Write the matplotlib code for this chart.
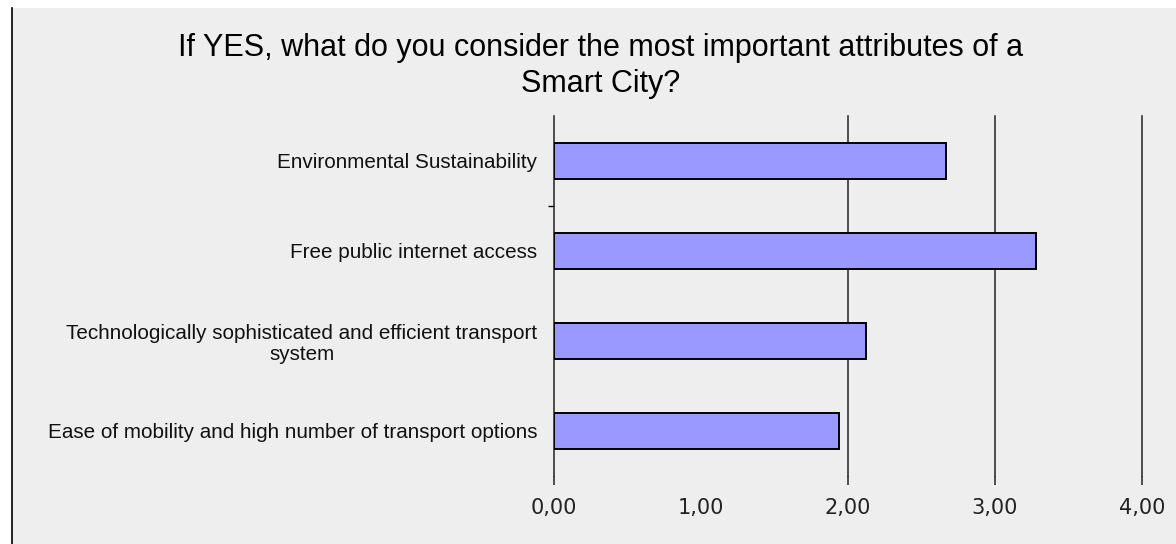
import matplotlib
matplotlib.use("Agg")
import matplotlib.pyplot as plt
from matplotlib.patches import Rectangle
from matplotlib.lines import Line2D

categories = [
    "Environmental Sustainability",
    "Free public internet access",
    "Technologically sophisticated and efficient transport\nsystem",
    "Ease of mobility and high number of transport options",
]
values = [2.67, 3.28, 2.12, 1.94]
xticks = [0, 1, 2, 3, 4]
xtick_labels = ["0,00", "1,00", "2,00", "3,00", "4,00"]
grid_at = [0, 2, 3, 4]
title = "If YES, what do you consider the most important attributes of a\nSmart City?"

W, H = 1176, 544
fig = plt.figure(figsize=(W / 100, H / 100), dpi=100)
fig.patch.set_facecolor("white")

# grey panel and left border
fig.patches.append(Rectangle((12 / W, 0), 1 - 12 / W, 1 - 8 / H, transform=fig.transFigure,
                             facecolor="#eeeeee", edgecolor="none", zorder=-10))
fig.lines.append(Line2D([12 / W, 12 / W], [0, 1 - 8 / H], transform=fig.transFigure,
                        color="black", lw=1.2, zorder=-5))

left, right, top, bottom = 554, 1142, 116, 476
ax = fig.add_axes([left / W, 1 - bottom / H, (right - left) / W, (bottom - top) / H])
ax.set_facecolor("#eeeeee")
ax.patch.set_alpha(0)

ypos = list(range(len(categories)))
ax.barh(ypos, values, height=0.4, color="#9999ff", edgecolor="black", linewidth=1.4, zorder=3)

ax.set_xlim(0, 4)
ax.set_ylim(len(categories) - 0.5, -0.5)

for x in grid_at:
    ax.axvline(x, color="#222222", lw=1.1, zorder=2, clip_on=False)

for s in ax.spines.values():
    s.set_visible(False)

ax.set_xticks(xticks)
ax.set_xticklabels(xtick_labels, fontsize=15, family="DejaVu Sans", color="#222222")
ax.tick_params(axis="x", length=6.5, width=1.1, color="#222222", pad=9.5)
for x, tl in zip(xticks, ax.xaxis.get_major_ticks()):
    if x not in grid_at:
        tl.tick1line.set_visible(False)

ax.set_yticks(ypos)
ax.set_yticklabels(categories, fontsize=14.9, family="Liberation Sans", color="#111111",
                   linespacing=1.1)
for lbl in ax.get_yticklabels():
    lbl.set_multialignment("center")
ax.tick_params(axis="y", length=0, pad=12)
ax.set_yticks([0.5], minor=True)
ax.tick_params(axis="y", which="minor", length=4, width=1, color="black")

fig.text(601 / W, 1 - 66 / H, title, ha="center", va="center", fontsize=22,
         family="Liberation Sans", color="black", linespacing=1.3)

fig.savefig("out.png", dpi=100)
